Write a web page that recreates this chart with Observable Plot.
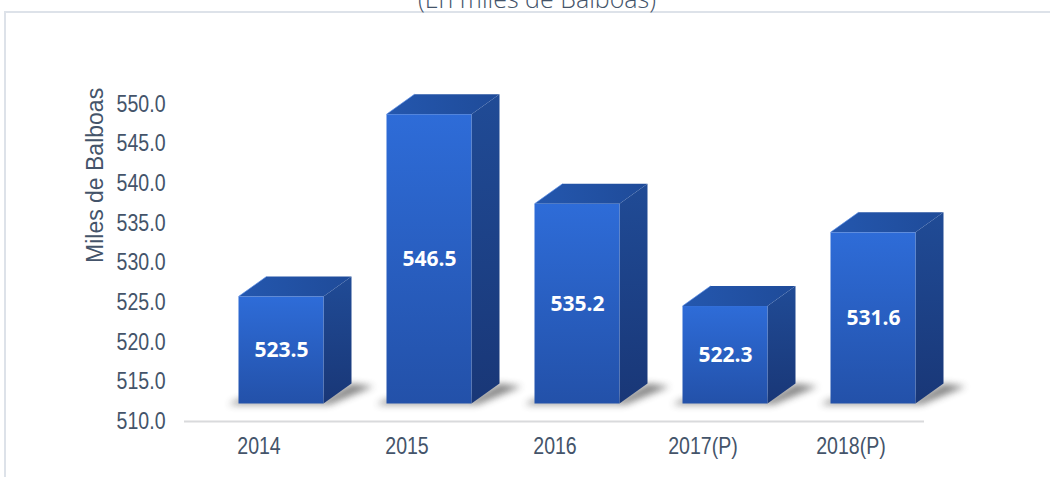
<!DOCTYPE html>
<html><head><meta charset="utf-8">
<script src="https://cdn.jsdelivr.net/npm/d3@7"></script>
<script src="https://cdn.jsdelivr.net/npm/@observablehq/plot@0.6"></script>
<style>
html,body{margin:0;padding:0;background:#fff;overflow:hidden;width:1050px;height:477px}
#wrap{position:relative;width:1050px;height:477px;overflow:hidden}
#frame{position:absolute;left:4px;top:11px;width:1200px;height:600px;border:2px solid #dde2e9;box-sizing:border-box}
#title{position:absolute;left:0;width:1074px;text-align:center;top:-14px;font:300 25px/25px "Open Sans",sans-serif;color:#44546a;white-space:nowrap}
#chart{position:absolute;left:0;top:0}
</style></head><body>
<div id="wrap"><div id="frame"></div><div id="title">(En miles de Balboas)</div><div id="chart"></div></div>
<script>
const years = ["2014", "2015", "2016", "2017(P)", "2018(P)"];
const values = [523.5, 546.5, 535.2, 522.3, 531.6];
const yTicks = [510, 515, 520, 525, 530, 535, 540, 545, 550];
const yLabel = "Miles de Balboas";
const BASE = 510;
const data = years.map((year, i) => ({year, value: values[i]}));

const FX = 22.5, FY = -17.5;   // front-face offset (3D projection)
const DX = 28, DY = -20;       // depth of each box
const SANS = '"Liberation Sans", Arial, sans-serif';
const SQUEEZE = 0.85;          // narrow look of the original axis font

function faces(index, scales) {
  const x = scales.x, y = scales.y;
  const bw = typeof x.bandwidth === "function" ? x.bandwidth() : scales.scales.x.bandwidth;
  const g = d3.create("svg:g");
  const defs = g.append("defs");
  const lg = (id, stops, x2 = 0, y2 = 1) => {
    const l = defs.append("linearGradient").attr("id", id).attr("x1", 0).attr("y1", 0).attr("x2", x2).attr("y2", y2);
    stops.forEach(([o, c]) => l.append("stop").attr("offset", o).attr("stop-color", c));
  };
  lg("gFront", [[0, "#2e6cd8"], [1, "#2351a9"]]);
  lg("gSide", [[0, "#204b96"], [1, "#193777"]]);
  lg("gTop", [[0, "#2457ae"], [1, "#1f4b99"]], 1, 0);
  const f = defs.append("filter").attr("id", "blur").attr("x", "-50%").attr("y", "-50%").attr("width", "200%").attr("height", "200%");
  f.append("feGaussianBlur").attr("stdDeviation", 3.5);
  for (const d of data) {
    const xl = x(d.year) + FX, xr = xl + bw;
    const yt = y(d.value) + FY, yb = y(BASE) + FY;
    g.append("path")
      .attr("d", `M${xl - 10},${yb + 1}L${xr + 6},${yb + 1}L${xr + DX + 22},${yb + DY + 3}L${xr + DX},${yb + DY}L${xr},${yb - 4}L${xl},${yb - 4}Z`)
      .attr("fill", "#4a4a4a").attr("opacity", 0.65).attr("filter", "url(#blur)");
    g.append("path")
      .attr("d", `M${xr},${yt}L${xr + DX},${yt + DY}L${xr + DX},${yb + DY}L${xr},${yb}Z`)
      .attr("fill", "url(#gSide)");
    g.append("path")
      .attr("d", `M${xl},${yt}L${xr},${yt}L${xr + DX},${yt + DY}L${xl + DX},${yt + DY}Z`)
      .attr("fill", "url(#gTop)");
    g.append("path")
      .attr("d", `M${xl},${yt}L${xl + DX},${yt + DY}`)
      .attr("stroke", "#5b8ee6").attr("stroke-width", 1).attr("opacity", 0.7);
  }
  return g.node();
}

const chart = Plot.plot({
  width: 1050, height: 477,
  marginLeft: 184, marginRight: 126, marginTop: 104, marginBottom: 56,
  x: {domain: years, type: "band", paddingInner: 0.4257, paddingOuter: 0.2128, label: null},
  y: {domain: [510, 550], label: null},
  style: {fontFamily: SANS, fontSize: "23px", color: "#44546a", background: "transparent", overflow: "visible"},
  marks: [
    Plot.ruleY([BASE], {stroke: "#d9dadc", strokeWidth: 2}),
    Plot.axisY({ticks: yTicks, tickFormat: d => d.toFixed(1), tickSize: 0, tickPadding: 19, label: null, fontSize: 23}),
    Plot.axisX({tickSize: 0, tickPadding: 16, label: null, fontSize: 23}),
    faces,
    Plot.barY(data, {x: "year", y1: () => BASE, y2: "value", fill: "url(#gFront)", dx: FX, dy: FY}),
    Plot.text(data, {x: "year", y: d => (d.value + BASE) / 2, text: d => d.value.toFixed(1), dx: FX, dy: FY,
      fill: "white", fontWeight: "bold", fontSize: 21, fontFamily: '"Open Sans", sans-serif'}),
    Plot.text([yLabel], {text: d => d, frameAnchor: "left", rotate: -90, dx: -89, fontSize: 23, fill: "#44546a", ariaLabel: "axis-title"})
  ]
});
// give the axis texts the condensed look of the original font
chart.querySelectorAll('g[aria-label="y-axis tick label"] text, g[aria-label="x-axis tick label"] text, g[aria-label="axis-title"] text')
  .forEach(t => {
    let tr = t.getAttribute("transform");
    if (!tr) {
      const x = +t.getAttribute("x") || 0, y = +t.getAttribute("y") || 0;
      t.removeAttribute("x"); t.removeAttribute("y");
      tr = `translate(${x},${y})`;
    }
    t.setAttribute("transform", `${tr} scale(${SQUEEZE},1)`);
  });
document.getElementById("chart").appendChild(chart);
</script>
</body></html>
